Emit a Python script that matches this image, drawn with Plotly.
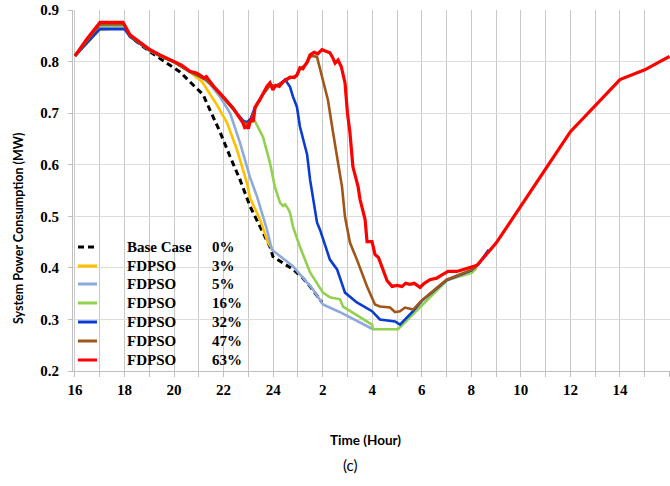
import plotly.graph_objects as go

# ---- data (hours on a continuous timeline: 24 -> midnight, 26 -> 2 am next day) ----
tick_vals = [16, 18, 20, 22, 24, 26, 28, 30, 32, 34, 36, 38]
tick_text = ["16", "18", "20", "22", "24", "2", "4", "6", "8", "10", "12", "14"]

base_t = [16, 16.5, 17, 18, 18.2, 18.5, 19.03, 19.71, 20.24, 20.76, 21.17, 21.45, 21.85, 22.26,
          22.66, 23.07, 23.47, 23.87, 23.99, 24.4, 24.8, 25.2, 25.49, 25.97]
base_v = [0.811, 0.840, 0.868, 0.868, 0.852, 0.838, 0.819, 0.797, 0.780, 0.755, 0.736, 0.706, 0.664, 0.616,
          0.571, 0.519, 0.480, 0.441, 0.422, 0.410, 0.397, 0.380, 0.364, 0.333]

p3_t = [16, 16.5, 17, 18, 18.22, 18.6, 19.03, 19.43, 20.04, 20.64, 21.13, 21.73, 22.14, 22.54, 22.94,
        23.07, 23.47, 23.79, 23.99]
p3_v = [0.811, 0.836, 0.862, 0.866, 0.850, 0.836, 0.821, 0.811, 0.798, 0.780, 0.761, 0.716, 0.681, 0.629, 0.565,
        0.535, 0.494, 0.449, 0.435]

p5_t = [16, 16.5, 17, 18, 18.22, 18.6, 19.03, 19.43, 20.04, 20.64, 21.05, 21.45, 21.85, 22.26, 22.66,
        23.07, 23.35, 23.75, 23.95, 24.8, 25.61, 26.01, 26.70, 28.03]
p5_v = [0.811, 0.838, 0.866, 0.868, 0.850, 0.836, 0.821, 0.811, 0.798, 0.780, 0.772, 0.756, 0.732, 0.700, 0.643,
        0.575, 0.538, 0.474, 0.435, 0.403, 0.358, 0.329, 0.314, 0.281]

p16_t = [16, 16.5, 17, 18, 18.22, 18.6, 19.03, 19.43, 20.04, 20.64, 21.05, 21.3, 21.65, 21.85, 22.1, 22.38,
         22.6, 22.78, 22.94, 23.1, 23.27, 23.59, 23.87, 24.07, 24.28, 24.4, 24.48, 24.6, 24.68, 24.80, 25.08,
         25.49, 26.01, 26.29, 26.70, 26.82, 27.99, 28.03, 29.04, 31.02, 32.03, 32.2]
p16_v = [0.811, 0.840, 0.870, 0.870, 0.850, 0.836, 0.821, 0.811, 0.798, 0.780, 0.771, 0.764, 0.748, 0.737, 0.725,
         0.708, 0.694, 0.683, 0.679, 0.683, 0.684, 0.654, 0.604, 0.557, 0.526, 0.520, 0.523, 0.515, 0.507, 0.480,
         0.441, 0.391, 0.352, 0.343, 0.339, 0.325, 0.290, 0.281, 0.281, 0.376, 0.391, 0.400]

p32_t = [16, 16.5, 17, 18, 18.22, 18.6, 19.03, 19.43, 20.04, 20.64, 21.05, 21.3, 21.65, 21.85, 22.1, 22.38,
         22.6, 22.78, 22.94, 23.1, 23.27, 23.59, 23.87, 24.1, 24.4, 24.48, 24.68, 24.80, 24.96, 25.08, 25.37,
         25.49, 25.77, 25.89, 26.29, 26.58, 26.90, 27.38, 27.99, 28.31, 28.92, 29.12, 29.65, 30.0, 31.0, 32.0,
         32.3, 32.7]
p32_v = [0.811, 0.838, 0.863, 0.863, 0.848, 0.835, 0.821, 0.811, 0.799, 0.781, 0.772, 0.765, 0.749, 0.738, 0.726,
         0.710, 0.696, 0.686, 0.682, 0.690, 0.712, 0.737, 0.754, 0.752, 0.761, 0.765, 0.751, 0.732, 0.712, 0.674,
         0.620, 0.571, 0.488, 0.474, 0.416, 0.397, 0.352, 0.333, 0.316, 0.300, 0.296, 0.290, 0.316, 0.336, 0.376,
         0.395, 0.408, 0.435]

p47_t = [16, 16.5, 17, 18, 18.22, 18.6, 19.03, 19.43, 20.04, 20.64, 21.05, 21.3, 21.65, 21.85, 22.1, 22.38,
         22.6, 22.78, 22.94, 23.1, 23.27, 23.59, 23.87, 24.1, 24.4, 24.68, 24.96, 25.08, 25.37, 25.49, 25.6,
         25.77, 25.97, 26.21, 26.42, 26.62, 26.78, 26.90, 27.10, 27.38, 27.79, 28.11, 28.31, 28.72, 28.92,
         29.12, 29.32, 29.65, 30.0, 31.0, 32.0, 32.2]
p47_v = [0.811, 0.841, 0.872, 0.872, 0.850, 0.836, 0.821, 0.811, 0.798, 0.780, 0.771, 0.765, 0.748, 0.737, 0.725,
         0.708, 0.694, 0.683, 0.679, 0.684, 0.709, 0.736, 0.754, 0.752, 0.760, 0.768, 0.773, 0.785, 0.797, 0.809,
         0.811, 0.809, 0.771, 0.726, 0.662, 0.604, 0.557, 0.499, 0.449, 0.416, 0.364, 0.329, 0.325, 0.323, 0.314,
         0.316, 0.323, 0.319, 0.337, 0.377, 0.396, 0.402]

p63_t = [16, 16.48, 17.01, 17.94, 18.22, 18.6, 19.03, 19.43, 20.04, 20.3, 20.64, 20.9, 21.05, 21.2, 21.3,
         21.65, 21.85, 22.1, 22.38, 22.6, 22.78, 22.85, 22.94, 23.0, 23.1, 23.2, 23.27, 23.45, 23.59, 23.75,
         23.87, 23.99, 24.1, 24.25, 24.40, 24.55, 24.68, 24.85, 24.96, 25.08, 25.2, 25.37, 25.49, 25.65, 25.8,
         25.97, 26.1, 26.29, 26.40, 26.50, 26.62, 26.75, 26.90, 27.0, 27.10, 27.22, 27.43, 27.51, 27.71, 27.79,
         27.99, 28.11, 28.25, 28.43, 28.6, 28.80, 29.0, 29.20, 29.35, 29.52, 29.7, 29.93, 30.1, 30.33, 30.6,
         30.8, 31.06, 31.42, 31.8, 32.23, 33, 34, 35, 36, 37, 38, 39, 40]
p63_v = [0.811, 0.844, 0.876, 0.876, 0.852, 0.838, 0.823, 0.813, 0.800, 0.793, 0.781, 0.778, 0.774, 0.768, 0.771,
         0.749, 0.739, 0.726, 0.710, 0.694, 0.681, 0.672, 0.674, 0.670, 0.690, 0.684, 0.712, 0.725, 0.739, 0.752,
         0.759, 0.745, 0.754, 0.752, 0.761, 0.766, 0.770, 0.769, 0.774, 0.788, 0.786, 0.799, 0.813, 0.818, 0.815,
         0.823, 0.820, 0.817, 0.808, 0.797, 0.803, 0.790, 0.759, 0.700, 0.662, 0.596, 0.557, 0.532, 0.494, 0.451,
         0.451, 0.426, 0.420, 0.397, 0.375, 0.364, 0.366, 0.364, 0.370, 0.368, 0.370, 0.362, 0.370, 0.377, 0.380,
         0.386, 0.393, 0.393, 0.398, 0.405, 0.448, 0.519, 0.592, 0.664, 0.714, 0.765, 0.784, 0.810]

legend_names = ["Base Case", "FDPSO", "FDPSO", "FDPSO", "FDPSO", "FDPSO", "FDPSO"]
legend_pcts = ["0%", "3%", "5%", "16%", "32%", "47%", "63%"]
colors = ["#000000", "#FFC000", "#8EA9DB", "#92D050", "#0A3CD2", "#A0561A", "#FF0000"]

series = [(base_t, base_v), (p3_t, p3_v), (p5_t, p5_v), (p16_t, p16_v),
          (p32_t, p32_v), (p47_t, p47_v), (p63_t, p63_v)]

fig = go.Figure()
for i, (t, v) in enumerate(series):
    line = dict(color=colors[i], width=3.2 if i == 6 else 2.6)
    if i == 0:
        line["dash"] = "6px,4px"
        line["width"] = 3
    fig.add_trace(go.Scatter(x=t, y=v, mode="lines", line=line,
                             name=legend_names[i] + " " + legend_pcts[i], showlegend=False))

# ---- layout geometry ----
L, R, T, B = 73, 670, 10, 371
W, H = 670, 486

def px(xp):
    return (xp - L) / (R - L)

def py(yp):
    return (B - yp) / (B - T)

serif = "Liberation Serif"
sans = "Lato"

shapes = []
annotations = []
row_y = [247, 266, 284, 303, 322, 341, 360]
for i in range(7):
    s = dict(type="line", xref="paper", yref="paper", x0=px(78), x1=px(97), y0=py(row_y[i]), y1=py(row_y[i]),
             line=dict(color=colors[i], width=3))
    if i == 0:
        s["line"]["dash"] = "6px,4px"
    shapes.append(s)
    annotations.append(dict(xref="paper", yref="paper", x=px(125), y=py(row_y[i]), xanchor="left", yanchor="middle",
                            text="<b>" + legend_names[i] + "</b>", showarrow=False,
                            font=dict(family=serif, size=15, color="#000")))
    annotations.append(dict(xref="paper", yref="paper", x=px(210), y=py(row_y[i]), xanchor="left", yanchor="middle",
                            text="<b>" + legend_pcts[i] + "</b>", showarrow=False,
                            font=dict(family=serif, size=15, color="#000")))

annotations.append(dict(xref="paper", yref="paper", x=px(365), y=py(440), xanchor="center", yanchor="middle",
                        text="<b>Time (Hour)</b>", showarrow=False, font=dict(family=sans, size=13.5, color="#000")))
annotations.append(dict(xref="paper", yref="paper", x=px(350), y=py(465), xanchor="center", yanchor="middle",
                        text="(c)", showarrow=False, font=dict(family=sans, size=15, color="#000")))
annotations.append(dict(xref="paper", yref="paper", x=px(18), y=py(229), xanchor="center", yanchor="middle",
                        text="<b>System Power Consumption (MW)</b>", textangle=-90, showarrow=False,
                        font=dict(family=sans, size=12.5, color="#000")))

fig.update_layout(
    width=W, height=H,
    margin=dict(l=L, r=W - R, t=T, b=H - B, pad=0),
    plot_bgcolor="white", paper_bgcolor="white",
    showlegend=False,
    shapes=shapes, annotations=annotations,
    xaxis=dict(range=[15.92, 40.02], tickvals=tick_vals, ticktext=tick_text,
               showgrid=True, gridcolor="#c8c8c8", gridwidth=1,
               minor=dict(dtick=1, tick0=16, showgrid=True, gridcolor="#c8c8c8", ticks="outside", ticklen=5,
                          tickcolor="#bfbfbf"),
               ticks="outside", ticklen=5, tickcolor="#bfbfbf",
               showline=True, linecolor="#bfbfbf", linewidth=1, zeroline=False,
               tickfont=dict(family=serif, size=15, color="#000", weight="bold"), ticklabelstandoff=0),
    yaxis=dict(range=[0.2, 0.9], dtick=0.1, tick0=0.2, tickformat=".1f",
               showgrid=True, gridcolor="#dcdcdc", gridwidth=1,
               ticks="outside", ticklen=4, tickcolor="#bfbfbf",
               showline=True, linecolor="#bfbfbf", linewidth=1, zeroline=False,
               tickfont=dict(family=serif, size=15, color="#000", weight="bold"), ticklabelstandoff=6),
)

fig.write_html("out.html")
